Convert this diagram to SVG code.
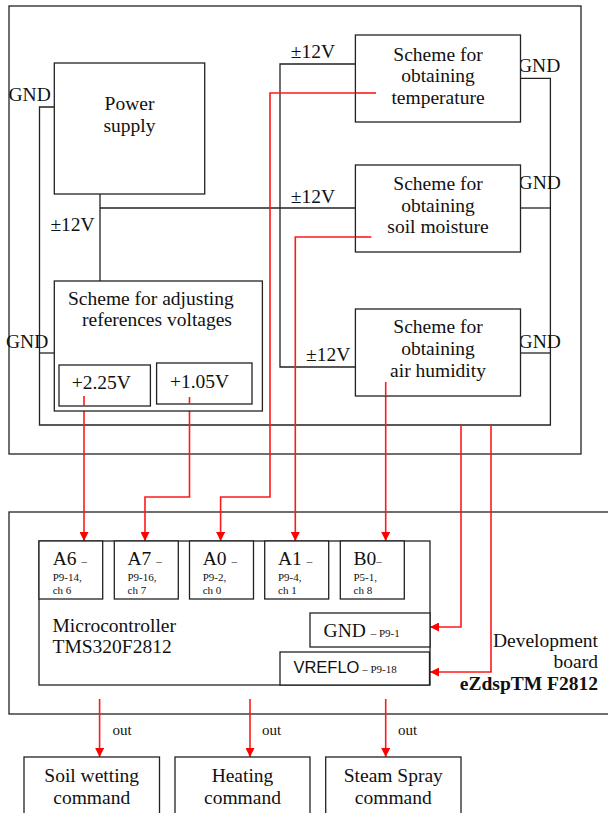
<svg xmlns="http://www.w3.org/2000/svg" width="608" height="813" viewBox="0 0 608 813">
<defs>
<marker id="ar" viewBox="0 0 10 10" refX="10" refY="5" markerWidth="9" markerHeight="9" markerUnits="userSpaceOnUse" orient="auto"><path d="M0,0 L10,5 L0,10 Z" fill="#ff0000"/></marker>
<style>
.b{fill:#fff;stroke:#222;stroke-width:1.3}
.o{fill:none;stroke:#222;stroke-width:1.3}
.w{fill:none;stroke:#222;stroke-width:1.3}
.r{fill:none;stroke:#ff1a1a;stroke-width:1.6}
.ra{fill:none;stroke:#ff1a1a;stroke-width:1.6;marker-end:url(#ar)}
text{font-family:"Liberation Serif","Times New Roman",serif;font-size:19.5px;fill:#111}
.c{text-anchor:middle}
.s{font-size:11px}
.sans{font-family:"Liberation Sans",Arial,sans-serif;font-size:16.5px}
.bd{font-weight:bold}
.e{text-anchor:end}
.out{font-size:15px}
</style>
</defs>
<rect width="608" height="813" fill="#fff"/>
<rect class="o" x="9" y="6" width="572" height="448"/>
<rect class="o" x="9" y="512" width="620" height="202"/>

<g id="connectors">
<polyline class="w" points="54.3,107 39.5,107 39.5,425 550.4,425 550.4,78.3 520.5,78.3"/>
<line class="w" x1="54.3" y1="353" x2="39.5" y2="353"/>
<line class="w" x1="520.5" y1="208" x2="550.4" y2="208"/>
<line class="w" x1="520.5" y1="353" x2="550.4" y2="353"/>
<line class="w" x1="100" y1="194" x2="100" y2="281"/>
<line class="w" x1="100" y1="208" x2="355.4" y2="208"/>
<polyline class="w" points="355.4,64 280,64 280,367 355.4,367"/>
<polyline class="ra" points="376,93 270,93 270,497 220.6,497 220.6,541"/>
<polyline class="ra" points="371.3,237 295.3,237 295.3,541"/>
<polyline class="ra" points="385.7,382 385.7,541"/>
<polyline class="ra" points="84,396 84,541"/>
<polyline class="ra" points="189.5,397 189.5,497 145,497 145,541"/>
<polyline class="ra" points="461,425 461,627 430,627"/>
<polyline class="ra" points="491,425 491,672 430,672"/>
<polyline class="ra" points="99.6,699 99.6,757"/>
<polyline class="ra" points="250,699 250,757"/>
<polyline class="ra" points="385.7,699 385.7,757"/>
<text x="8.5" y="101">GND</text>
<text x="6" y="348.3">GND</text>
<text x="518" y="72.3">GND</text>
<text x="518.6" y="189">GND</text>
<text x="518.6" y="347.7">GND</text>
<text x="290.7" y="58.3">±12V</text>
<text x="290.7" y="202.7">±12V</text>
<text x="50.4" y="231">±12V</text>
<text x="306" y="360.7">±12V</text>
<text class="out" x="112.4" y="735">out</text>
<text class="out" x="262" y="735">out</text>
<text class="out" x="398" y="735">out</text>
</g>

<g id="power">
<rect class="b" x="54.3" y="63" width="150.4" height="131"/>
<text class="c" x="129.5" y="110">Power</text>
<text class="c" x="129.5" y="131.7">supply</text>
</g>
<g id="temp">
<rect class="b" x="355.4" y="35" width="165.1" height="87"/>
<text class="c" x="438" y="60.5">Scheme for</text>
<text class="c" x="438" y="82">obtaining</text>
<text class="c" x="438" y="104">temperature</text>
</g>
<line class="r" x1="355.4" y1="93" x2="376" y2="93"/>
<g id="soil">
<rect class="b" x="355.4" y="165" width="165.1" height="87"/>
<text class="c" x="438" y="190">Scheme for</text>
<text class="c" x="438" y="211.5">obtaining</text>
<text class="c" x="438" y="233">soil moisture</text>
</g>
<line class="r" x1="355.4" y1="237" x2="371.3" y2="237"/>
<g id="air">
<rect class="b" x="355.4" y="309" width="165.1" height="87"/>
<text class="c" x="438" y="333.3">Scheme for</text>
<text class="c" x="438" y="355">obtaining</text>
<text class="c" x="438" y="376.7">air humidity</text>
</g>
<line class="r" x1="385.7" y1="382" x2="385.7" y2="396"/>
<g id="adjust">
<rect class="b" x="54.3" y="281" width="208.1" height="130"/>
<text x="68" y="305">Scheme for adjusting</text>
<text x="82" y="326">references voltages</text>
<rect class="b" x="59" y="365" width="91.4" height="41"/>
<text x="71.7" y="389.3">+2.25V</text>
<rect class="b" x="156.6" y="363" width="95.4" height="41"/>
<text x="170" y="388.3">+1.05V</text>
</g>
<line class="r" x1="84" y1="396" x2="84" y2="406"/>
<line class="r" x1="189.5" y1="397" x2="189.5" y2="404"/>

<g id="micro">
<rect class="b" x="39" y="541" width="391" height="144"/>
<text x="52.5" y="631.7">Microcontroller</text>
<text x="52.5" y="653">TMS320F2812</text>
</g>
<g id="pinA6">
<rect class="b" x="39" y="541" width="63.7" height="58"/>
<text x="52.7" y="565">A6 <tspan class="s">–</tspan></text>
<text class="s" x="52.7" y="580.7">P9-14,</text>
<text class="s" x="52.7" y="594">ch 6</text>
</g>
<g id="pinA7">
<rect class="b" x="114.3" y="541" width="64" height="58"/>
<text x="127.5" y="565">A7 <tspan class="s">–</tspan></text>
<text class="s" x="127.5" y="580.7">P9-16,</text>
<text class="s" x="127.5" y="594">ch 7</text>
</g>
<g id="pinA0">
<rect class="b" x="189.5" y="541" width="64" height="58"/>
<text x="202.7" y="565">A0 <tspan class="s">–</tspan></text>
<text class="s" x="202.7" y="580.7">P9-2,</text>
<text class="s" x="202.7" y="594">ch 0</text>
</g>
<g id="pinA1">
<rect class="b" x="264.7" y="541" width="64" height="58"/>
<text x="278" y="565">A1 <tspan class="s">–</tspan></text>
<text class="s" x="278" y="580.7">P9-4,</text>
<text class="s" x="278" y="594">ch 1</text>
</g>
<g id="pinB0">
<rect class="b" x="340.3" y="541" width="64" height="58"/>
<text x="353.5" y="565">B0<tspan class="s">–</tspan></text>
<text class="s" x="353.5" y="580.7">P5-1,</text>
<text class="s" x="353.5" y="594">ch 8</text>
</g>
<g id="gnd">
<rect class="b" x="310" y="613" width="120" height="34"/>
<text x="323.6" y="636.7">GND <tspan class="s">– P9-1</tspan></text>
</g>
<g id="vreflo">
<rect class="b" x="280" y="652" width="149.5" height="33"/>
<text x="293.4" y="673"><tspan class="sans">VREFLO</tspan><tspan class="s"> – P9-18</tspan></text>
</g>
<g id="board">
<text class="e" x="598" y="646.7">Development</text>
<text class="e" x="598" y="668">board</text>
<text class="e bd" x="598" y="690">eZdspTM F2812</text>
</g>

<g id="soilcmd">
<rect class="b" x="24" y="757" width="135.5" height="70"/>
<text class="c" x="91.7" y="782.3">Soil wetting</text>
<text class="c" x="91.7" y="804">command</text>
</g>
<g id="heatcmd">
<rect class="b" x="175" y="757" width="135" height="70"/>
<text class="c" x="242.5" y="782.3">Heating</text>
<text class="c" x="242.5" y="804">command</text>
</g>
<g id="steamcmd">
<rect class="b" x="325.7" y="757" width="135.3" height="70"/>
<text class="c" x="393.3" y="782.3">Steam Spray</text>
<text class="c" x="393.3" y="804">command</text>
</g>
</svg>
